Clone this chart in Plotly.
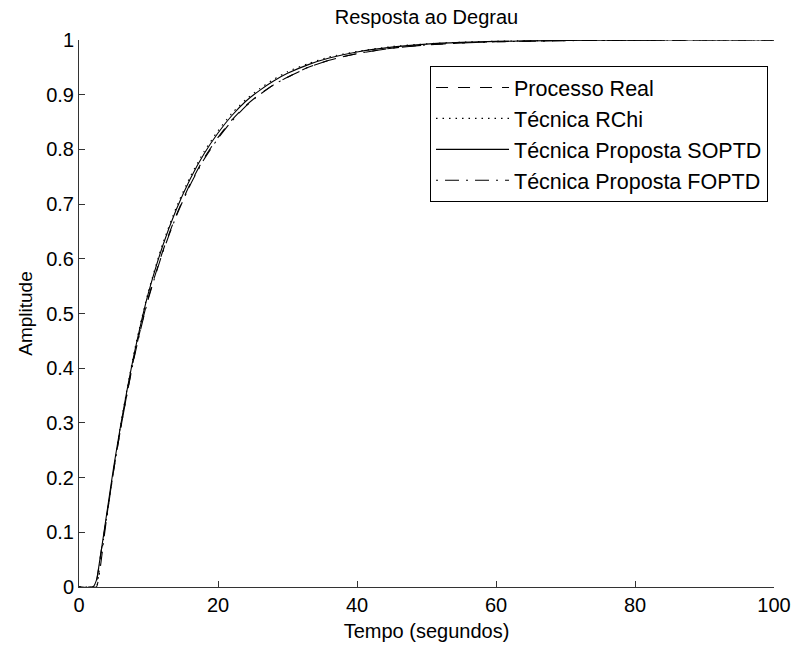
import plotly.graph_objects as go

# Time samples (seconds)
tempo = [0, 2, 2.5, 3, 3.5, 4, 5, 6, 7, 8, 9, 10, 12, 14, 16, 18, 20, 22, 24, 26,
         28, 30, 33, 36, 40, 45, 50, 55, 60, 70, 80, 90, 100]

processo_real = [0, 0, 0.01, 0.05, 0.09, 0.13, 0.215, 0.29, 0.36, 0.425, 0.48, 0.53,
                 0.612, 0.68, 0.737, 0.784, 0.822, 0.854, 0.88, 0.901, 0.918, 0.932,
                 0.95, 0.963, 0.975, 0.985, 0.991, 0.9945, 0.9968, 0.999, 0.9997, 1.0, 1.0]

tecnica_rchi = [0, 0, 0, 0.04, 0.085, 0.13, 0.218, 0.297, 0.368, 0.433, 0.49, 0.541,
                0.626, 0.694, 0.75, 0.796, 0.834, 0.866, 0.891, 0.911, 0.928, 0.942,
                0.957, 0.969, 0.979, 0.988, 0.993, 0.996, 0.9978, 0.9993, 0.9998, 1.0, 1.0]

proposta_soptd = [0, 0, 0.012, 0.05, 0.092, 0.135, 0.22, 0.296, 0.366, 0.43, 0.487, 0.538,
                  0.622, 0.69, 0.746, 0.792, 0.83, 0.862, 0.888, 0.908, 0.925, 0.939,
                  0.955, 0.967, 0.978, 0.987, 0.9925, 0.9956, 0.9975, 0.9992, 0.9998, 1.0, 1.0]

proposta_foptd = [0, 0, 0, 0.03, 0.08, 0.128, 0.214, 0.29, 0.359, 0.423, 0.478, 0.528,
                  0.61, 0.678, 0.735, 0.782, 0.82, 0.852, 0.879, 0.9, 0.918, 0.932,
                  0.95, 0.963, 0.975, 0.985, 0.991, 0.9945, 0.9967, 0.9988, 0.9996, 0.9999, 1.0]

x_ticks = [0, 20, 40, 60, 80, 100]
y_ticks = [0, 0.1, 0.2, 0.3, 0.4, 0.5, 0.6, 0.7, 0.8, 0.9, 1]

FONT = "Liberation Sans, Arial, Helvetica, sans-serif"

series = [
    ("Processo Real", processo_real, "12px,10px"),
    ("Técnica RChi", tecnica_rchi, "1.5px,5px"),
    ("Técnica Proposta SOPTD", proposta_soptd, "solid"),
    ("Técnica Proposta FOPTD", proposta_foptd, "2px,7px,14px,7px"),
]

fig = go.Figure()
for i, (name, vals, dash) in enumerate(series):
    fig.add_trace(go.Scatter(
        x=tempo, y=vals, name=name, mode="lines", legendgroup=f"g{i}",
        line=dict(color="black", width=1.1, dash=dash, shape="spline", smoothing=0.6),
    ))

fig.update_layout(
    width=797, height=648,
    margin=dict(l=79, r=23, t=40, b=61, autoexpand=False),
    paper_bgcolor="white", plot_bgcolor="white",
    font=dict(family=FONT, size=20, color="black"),
    title=dict(text="Resposta ao Degrau", x=(79 + 774) / 2 / 797, xanchor="center",
               y=1 - 17 / 648, yanchor="middle", yref="container",
               font=dict(family=FONT, size=20, color="black")),
    showlegend=True,
    legend=dict(x=0.9914, y=0.9525, xanchor="right", yanchor="top",
                bgcolor="white", bordercolor="black", borderwidth=1,
                font=dict(family=FONT, size=21.5, color="black"), itemwidth=73,
                tracegroupgap=6, traceorder="normal"),
)

fig.update_xaxes(range=[0, 100], tickvals=x_ticks, ticks="inside", ticklen=6,
                 tickcolor="#333", showline=True, linecolor="#333", linewidth=1,
                 showgrid=False, zeroline=False, mirror=False,
                 title=dict(text="Tempo (segundos)", standoff=8,
                            font=dict(family=FONT, size=20, color="black")),
                 tickfont=dict(family=FONT, size=20, color="black"))
fig.update_yaxes(range=[0, 1], tickvals=y_ticks, ticks="inside", ticklen=6,
                 tickcolor="#333", showline=True, linecolor="#333", linewidth=1,
                 showgrid=False, zeroline=False, mirror=False,
                 title=dict(text="Amplitude", standoff=8,
                            font=dict(family=FONT, size=19, color="black")),
                 tickfont=dict(family=FONT, size=20, color="black"))

fig.write_html("out.html")
